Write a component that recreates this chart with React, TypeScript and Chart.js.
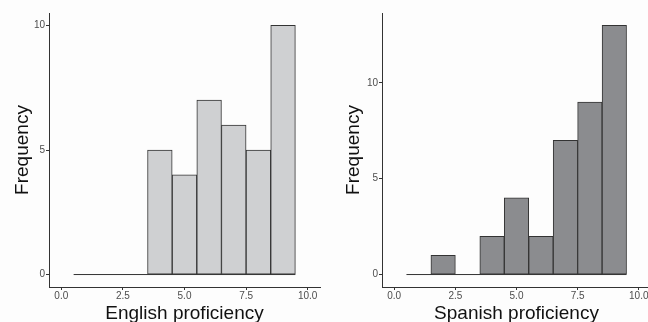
import React, { useEffect, useRef } from "react";
import { Chart, registerables } from "chart.js";

Chart.register(...registerables);

const binCenters = [1, 2, 3, 4, 5, 6, 7, 8, 9];
const englishCounts = [0, 0, 0, 5, 4, 7, 6, 5, 10];
const spanishCounts = [0, 1, 0, 2, 4, 2, 7, 9, 13];
const xTickValues = [0, 2.5, 5, 7.5, 10];
const yTickValues = [0, 5, 10];
const englishTitle = "English proficiency";
const spanishTitle = "Spanish proficiency";
const yTitle = "Frequency";

const FONT = "'Liberation Sans', Arial, Helvetica, sans-serif";
const LINE = "#333333";
const TICK_TEXT = "#4d4d4d";

type HistProps = {
  counts: number[];
  fill: string;
  xTitle: string;
  yAxisWidth: number;
  yTitlePad: number;
  width: number;
  padRight: number;
  left: number;
};

function Histogram({ counts, fill, xTitle, yAxisWidth, yTitlePad, width, padRight, left }: HistProps) {
  const ref = useRef<HTMLCanvasElement | null>(null);

  useEffect(() => {
    if (!ref.current) return;
    const maxCount = Math.max(...counts);
    const xMin = xTickValues[0];
    const xMax = xTickValues[xTickValues.length - 1];
    const xPad = (xMax - xMin) * 0.05;
    const halfBin = (binCenters[1] - binCenters[0]) / 2;

    const chart = new Chart(ref.current, {
      type: "bar",
      data: {
        datasets: [
          {
            type: "bar",
            data: binCenters.map((b, i) => ({ x: b, y: counts[i] })),
            backgroundColor: fill,
            borderColor: LINE,
            borderWidth: 1,
            borderSkipped: false,
            barPercentage: 1,
            categoryPercentage: 1,
            order: 1,
          } as any,
          {
            type: "line",
            data: [
              { x: binCenters[0] - halfBin, y: 0 },
              { x: binCenters[binCenters.length - 1] + halfBin, y: 0 },
            ],
            borderColor: LINE,
            borderWidth: 1,
            pointRadius: 0,
            order: 2,
          } as any,
        ],
      },
      options: {
        animation: false,
        responsive: false,
        maintainAspectRatio: false,
        devicePixelRatio: 1,
        layout: { padding: { top: 13, right: padRight, left: 0, bottom: 0 } },
        plugins: { legend: { display: false }, tooltip: { enabled: false } },
        scales: {
          x: {
            type: "linear",
            offset: false,
            min: xMin - xPad,
            max: xMax + xPad,
            afterBuildTicks: (scale: any) => {
              scale.ticks = xTickValues.map((v) => ({ value: v }));
            },
            afterFit: (scale: any) => {
              scale.height = 35;
            },
            ticks: {
              font: { family: FONT, size: 10 },
              color: TICK_TEXT,
              padding: 0,
              maxRotation: 0,
              autoSkip: false,
              callback: (v: any) => Number(v).toFixed(1),
            },
            grid: {
              display: true,
              offset: false,
              drawOnChartArea: false,
              drawTicks: true,
              tickLength: 3,
              color: LINE,
            },
            border: { display: true, color: LINE, width: 1 },
            title: {
              display: true,
              text: xTitle,
              color: "#111111",
              font: { family: FONT, size: 19, lineHeight: 0.9 },
              padding: { top: 0, bottom: 0 },
            },
          },
          y: {
            type: "linear",
            min: -0.05 * maxCount,
            max: 1.05 * maxCount,
            afterBuildTicks: (scale: any) => {
              scale.ticks = yTickValues.map((v) => ({ value: v }));
            },
            afterFit: (scale: any) => {
              scale.width = yAxisWidth;
            },
            ticks: {
              font: { family: FONT, size: 10 },
              color: TICK_TEXT,
              padding: 1,
              autoSkip: false,
              callback: (v: any) => String(v),
            },
            grid: {
              display: true,
              drawOnChartArea: false,
              drawTicks: true,
              tickLength: 3,
              color: LINE,
            },
            border: { display: true, color: LINE, width: 1 },
            title: {
              display: true,
              text: yTitle,
              color: "#111111",
              font: { family: FONT, size: 19, lineHeight: 0.9 },
              padding: { top: yTitlePad, bottom: 0 },
            },
          },
        },
      } as any,
    });
    return () => chart.destroy();
  }, [counts, fill, xTitle, yAxisWidth, yTitlePad, width, padRight]);

  return (
    <canvas
      ref={ref}
      width={width}
      height={322}
      style={{ position: "absolute", left, top: 0, width, height: 322 }}
    />
  );
}

export default function App() {
  return (
    <div
      style={{
        position: "fixed",
        left: 0,
        top: 0,
        width: 648,
        height: 322,
        overflow: "hidden",
        background: "#fdfdfd",
      }}
    >
      <Histogram
        counts={englishCounts}
        fill="#cfd0d2"
        xTitle={englishTitle}
        yAxisWidth={49}
        yTitlePad={14}
        width={324}
        padRight={4}
        left={0}
      />
      <Histogram
        counts={spanishCounts}
        fill="#8b8c8f"
        xTitle={spanishTitle}
        yAxisWidth={58}
        yTitlePad={21}
        width={340}
        padRight={13}
        left={324}
      />
    </div>
  );
}
